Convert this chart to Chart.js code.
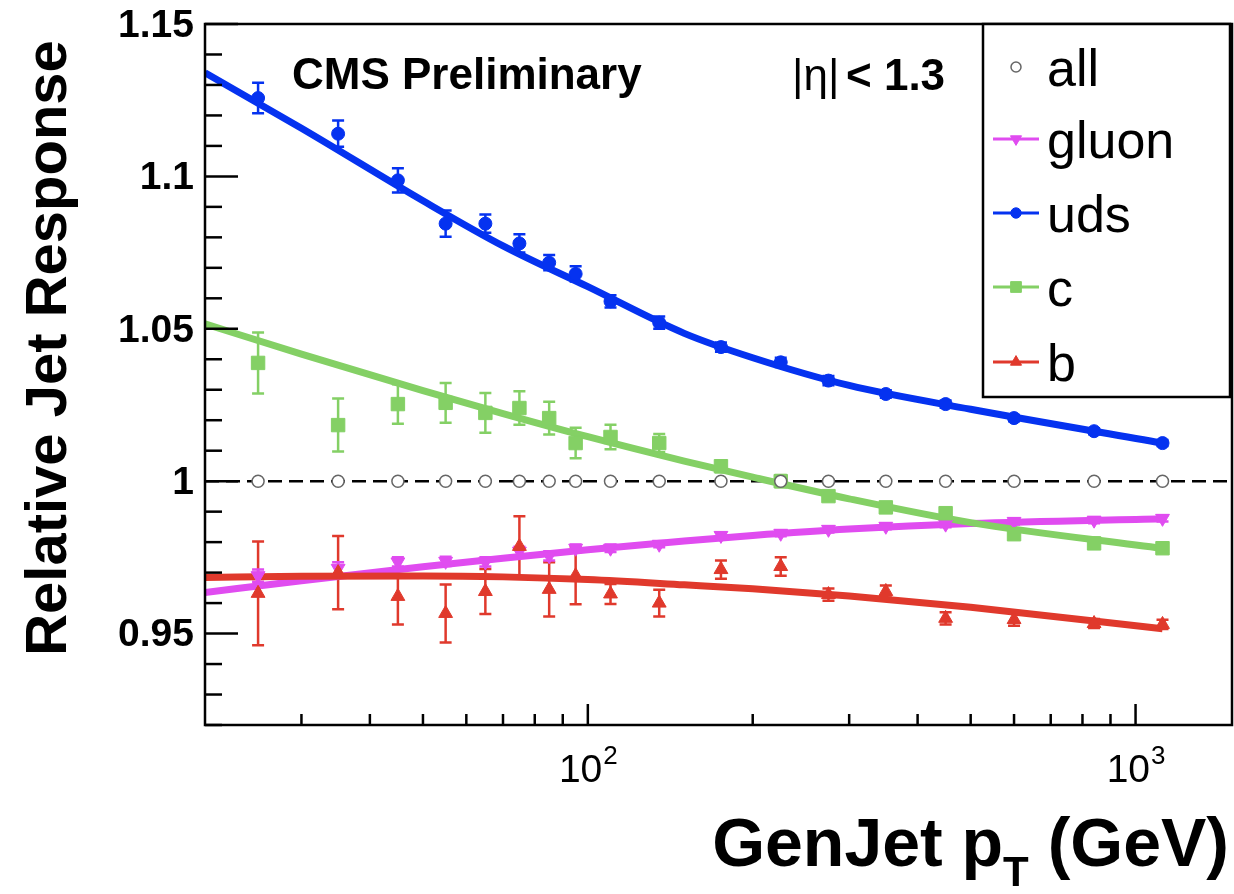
<!DOCTYPE html>
<html>
<head>
<meta charset="utf-8">
<script src="https://cdn.jsdelivr.net/npm/chart.js@4.4.1/dist/chart.umd.min.js"></script>
<style>
  html, body { margin: 0; padding: 0; background: #fff; overflow: hidden; }
  #box { position: relative; width: 1234px; height: 894px; }
</style>
</head>
<body>
<div id="box"><canvas id="c"></canvas></div>
<script>
// GenJet pT bin centres (GeV)
const ptX = [25, 35, 45, 55, 65, 75, 85, 95, 110, 135, 175, 225, 275, 350, 450, 600, 840, 1120];

const allResp = [1, 1, 1, 1, 1, 1, 1, 1, 1, 1, 1, 1, 1, 1, 1, 1, 1, 1];

const udsResp = [1.1257, 1.114, 1.0987, 1.0845, 1.0845, 1.078, 1.0717, 1.068, 1.059, 1.052, 1.044, 1.039, 1.033, 1.0286, 1.0253, 1.0207, 1.0164, 1.0125];
const udsErr  = [0.005, 0.0043, 0.004, 0.0043, 0.003, 0.003, 0.0025, 0.0025, 0.002, 0.002, 0.0015, 0.0015, 0.0015, 0.0012, 0.0012, 0.001, 0.001, 0.001];

const cResp = [1.0388, 1.0184, 1.0253, 1.0257, 1.0224, 1.024, 1.0207, 1.0125, 1.0145, 1.0125, 1.0049, 1.0, 0.9951, 0.9914, 0.9895, 0.9826, 0.9796, 0.978];
const cErr  = [0.01, 0.0087, 0.0065, 0.0065, 0.0065, 0.0055, 0.0054, 0.005, 0.004, 0.003, 0.002, 0.002, 0.0015, 0.0015, 0.0012, 0.0012, 0.001, 0.001];

const gluonResp = [0.969, 0.9714, 0.9735, 0.9737, 0.9735, 0.977, 0.9755, 0.978, 0.978, 0.9793, 0.9822, 0.9829, 0.9842, 0.9852, 0.9859, 0.9868, 0.9872, 0.9878];
const gluonErr  = [0.002, 0.002, 0.0015, 0.0015, 0.0015, 0.0015, 0.0015, 0.0012, 0.0012, 0.001, 0.001, 0.001, 0.001, 0.001, 0.001, 0.001, 0.001, 0.001];

const bResp = [0.9632, 0.970, 0.9622, 0.9566, 0.9638, 0.9786, 0.9645, 0.969, 0.963, 0.960, 0.971, 0.972, 0.9628, 0.9638, 0.955, 0.9546, 0.9533, 0.953];
const bErr  = [0.017, 0.012, 0.0092, 0.0095, 0.0074, 0.0099, 0.0089, 0.0094, 0.0033, 0.0044, 0.003, 0.003, 0.002, 0.002, 0.002, 0.002, 0.0015, 0.0015];

// fitted curves
const fitX     = [20, 30, 50, 70, 100, 150, 200, 300, 500, 1120];
const udsFit   = [1.134, 1.1158, 1.092, 1.0772, 1.0638, 1.0485, 1.0405, 1.0314, 1.0236, 1.0125];
const cFit     = [1.0516, 1.0417, 1.0297, 1.0222, 1.0146, 1.0066, 1.0013, 0.9942, 0.9864, 0.9779];
const gluonFit = [0.9635, 0.9673, 0.9719, 0.9747, 0.9775, 0.9804, 0.9822, 0.9843, 0.9861, 0.9877];
const bFit     = [0.9684, 0.9688, 0.9689, 0.9686, 0.9677, 0.966, 0.9647, 0.9623, 0.9586, 0.9516];

const refX = [20, 1500];
const refY = [1, 1];

// axis ticks
const yMajorStep = 0.05;
const xMajorTicks = [100, 1000];
const xMinorTicks = [30, 40, 50, 60, 70, 80, 90, 200, 300, 400, 500, 600, 700, 800, 900];
const xTickLabels = [{ v: 100, base: '10', exp: '2' }, { v: 1000, base: '10', exp: '3' }];

const legendOrder = ['all', 'gluon', 'uds', 'c', 'b'];

const FONT = "'Liberation Sans', Arial, Helvetica, sans-serif";
const BLUE = '#0532f0', GREEN = '#84d065', MAGENTA = '#e04cf0', RED = '#e0392c';

const pts = (xs, ys) => xs.map((x, i) => ({ x: x, y: ys[i] }));

const errSets = [
  { vals: bResp, err: bErr, color: RED },
  { vals: cResp, err: cErr, color: GREEN },
  { vals: gluonResp, err: gluonErr, color: MAGENTA },
  { vals: udsResp, err: udsErr, color: BLUE }
];

function fitSet(label, ys, color) {
  return {
    label: label, type: 'line', data: pts(fitX, ys), borderColor: color,
    borderWidth: 7, pointRadius: 0, cubicInterpolationMode: 'monotone', order: 5
  };
}
function markerSet(label, ys, color, style, r, rot) {
  return {
    label: label, type: 'scatter', data: pts(ptX, ys), showLine: false,
    pointStyle: style, pointRadius: r, pointRotation: rot || 0,
    backgroundColor: color, borderColor: color, borderWidth: 1, order: 1
  };
}

const decor = {
  id: 'decor',
  beforeDatasetsDraw(chart) {
    const { ctx, chartArea: a } = chart;
    const x = chart.scales.x, y = chart.scales.y;
    ctx.save();
    ctx.beginPath();
    ctx.rect(a.left, a.top, a.right - a.left, a.bottom - a.top);
    ctx.clip();
    ctx.lineWidth = 2.5;
    errSets.forEach(s => {
      ctx.strokeStyle = s.color;
      s.vals.forEach((v, i) => {
        const px = x.getPixelForValue(ptX[i]);
        const y1 = y.getPixelForValue(v - s.err[i]);
        const y2 = y.getPixelForValue(v + s.err[i]);
        ctx.beginPath();
        ctx.moveTo(px, y1); ctx.lineTo(px, y2);
        ctx.moveTo(px - 6, y1); ctx.lineTo(px + 6, y1);
        ctx.moveTo(px - 6, y2); ctx.lineTo(px + 6, y2);
        ctx.stroke();
      });
    });
    ctx.restore();
  },
  afterDraw(chart) {
    const { ctx, chartArea: a } = chart;
    const x = chart.scales.x, y = chart.scales.y;
    ctx.save();
    ctx.strokeStyle = '#000';
    ctx.fillStyle = '#000';

    // frame
    ctx.lineWidth = 2.5;
    ctx.strokeRect(a.left, a.top, a.right - a.left, a.bottom - a.top);

    // y ticks (inward) and labels
    ctx.textAlign = 'right';
    ctx.textBaseline = 'middle';
    ctx.font = 'bold 39px ' + FONT;
    y.ticks.forEach(t => {
      const py = y.getPixelForValue(t.value);
      const major = Math.abs(t.value / yMajorStep - Math.round(t.value / yMajorStep)) < 1e-6;
      ctx.beginPath();
      ctx.moveTo(a.left, py);
      ctx.lineTo(a.left + (major ? 33 : 17), py);
      ctx.stroke();
      if (major) ctx.fillText(String(Math.round(t.value * 100) / 100), a.left - 11, py + 2);
    });

    // x ticks (inward)
    xMinorTicks.concat(xMajorTicks).forEach(v => {
      const px = x.getPixelForValue(v);
      const len = xMajorTicks.includes(v) ? 21 : 11;
      ctx.beginPath();
      ctx.moveTo(px, a.bottom);
      ctx.lineTo(px, a.bottom - len);
      ctx.stroke();
    });

    // x tick labels 10^n
    ctx.textAlign = 'left';
    ctx.textBaseline = 'alphabetic';
    xTickLabels.forEach(l => {
      const px = x.getPixelForValue(l.v);
      ctx.font = '39px ' + FONT;
      const wb = ctx.measureText(l.base).width;
      ctx.font = '26px ' + FONT;
      const we = ctx.measureText(l.exp).width;
      const x0 = px - (wb + we) / 2;
      ctx.font = '39px ' + FONT;
      ctx.fillText(l.base, x0, 782);
      ctx.font = '26px ' + FONT;
      ctx.fillText(l.exp, x0 + wb + 1, 764);
    });

    // x title
    const tParts = [['GenJet p', 'bold 68px ', 866], ['T', 'bold 42px ', 886], [' (GeV)', 'bold 68px ', 866]];
    let wTot = 0;
    tParts.forEach(p => { ctx.font = p[1] + FONT; wTot += ctx.measureText(p[0]).width; });
    let cx = 1229 - wTot;
    tParts.forEach(p => {
      ctx.font = p[1] + FONT;
      ctx.fillText(p[0], cx, p[2]);
      cx += ctx.measureText(p[0]).width;
    });

    // y title
    ctx.save();
    ctx.translate(66, 348);
    ctx.rotate(-Math.PI / 2);
    ctx.textAlign = 'center';
    ctx.font = 'bold 58px ' + FONT;
    ctx.fillText('Relative Jet Response', 0, 0);
    ctx.restore();

    // labels in plot
    ctx.textAlign = 'left';
    ctx.font = 'bold 44px ' + FONT;
    ctx.fillText('CMS Preliminary', 292, 89);
    ctx.font = '44px ' + FONT;
    ctx.fillText('|\u03b7|', 792, 90);
    ctx.font = 'bold 44px ' + FONT;
    ctx.fillText('< 1.3', 846, 90);

    // legend
    const lx0 = 983, lx1 = a.right - 2, ly0 = a.top, ly1 = 397;
    ctx.fillStyle = '#fff';
    ctx.fillRect(lx0, ly0, lx1 - lx0, ly1 - ly0);
    ctx.lineWidth = 2.5;
    ctx.strokeStyle = '#000';
    ctx.strokeRect(lx0, ly0, lx1 - lx0, ly1 - ly0);
    const rowY = [67, 139, 213, 287, 362];
    legendOrder.forEach((name, i) => {
      const ds = chart.data.datasets.find(d => d.label === name && d.type === 'scatter');
      const my = rowY[i];
      if (name !== 'all') {
        ctx.strokeStyle = ds.borderColor;
        ctx.lineWidth = 3;
        ctx.beginPath();
        ctx.moveTo(993, my); ctx.lineTo(1039, my);
        ctx.stroke();
      }
      ctx.fillStyle = ds.backgroundColor;
      ctx.strokeStyle = ds.borderColor;
      ctx.lineWidth = ds.borderWidth;
      Chart.helpers.drawPoint(ctx, {
        pointStyle: ds.pointStyle, radius: name === 'all' ? 5 : ds.pointRadius * 0.8,
        rotation: ds.pointRotation, borderWidth: ds.borderWidth
      }, 1016, my);
      ctx.fillStyle = '#000';
      ctx.font = '52px ' + FONT;
      ctx.fillText(name, 1047, my + 19);
    });
    ctx.restore();
  }
};

new Chart(document.getElementById('c'), {
  data: {
    datasets: [
      {
        label: 'ref', type: 'line', data: pts(refX, refY), borderColor: '#000',
        borderWidth: 2.5, borderDash: [14, 7], pointRadius: 0, order: 10
      },
      fitSet('b fit', bFit, RED),
      fitSet('c fit', cFit, GREEN),
      fitSet('gluon fit', gluonFit, MAGENTA),
      fitSet('uds fit', udsFit, BLUE),
      markerSet('b', bResp, RED, 'triangle', 8),
      markerSet('c', cResp, GREEN, 'rect', 9.5),
      markerSet('gluon', gluonResp, MAGENTA, 'triangle', 8, 180),
      markerSet('uds', udsResp, BLUE, 'circle', 6.5),
      {
        label: 'all', type: 'scatter', data: pts(ptX, allResp), showLine: false,
        pointStyle: 'circle', pointRadius: 6, backgroundColor: '#fff',
        borderColor: '#666', borderWidth: 1.5, order: 0
      }
    ]
  },
  options: {
    responsive: true,
    maintainAspectRatio: false,
    animation: false,
    devicePixelRatio: 1,
    layout: { autoPadding: false, padding: { top: 24, right: 2, left: 0, bottom: 0 } },
    plugins: { legend: { display: false }, tooltip: { enabled: false } },
    scales: {
      x: {
        type: 'logarithmic', min: 20, max: 1500, offset: false,
        ticks: { display: false },
        grid: { display: false, drawTicks: false },
        border: { display: false },
        afterFit: s => { s.height = 169; s.paddingLeft = 0; s.paddingRight = 0; }
      },
      y: {
        type: 'linear', min: 0.92, max: 1.15,
        ticks: { display: false, stepSize: 0.01, autoSkip: false },
        grid: { display: false, drawTicks: false },
        border: { display: false },
        afterFit: s => { s.width = 205; s.paddingTop = 0; s.paddingBottom = 0; }
      }
    }
  },
  plugins: [decor]
});
</script>
</body>
</html>
